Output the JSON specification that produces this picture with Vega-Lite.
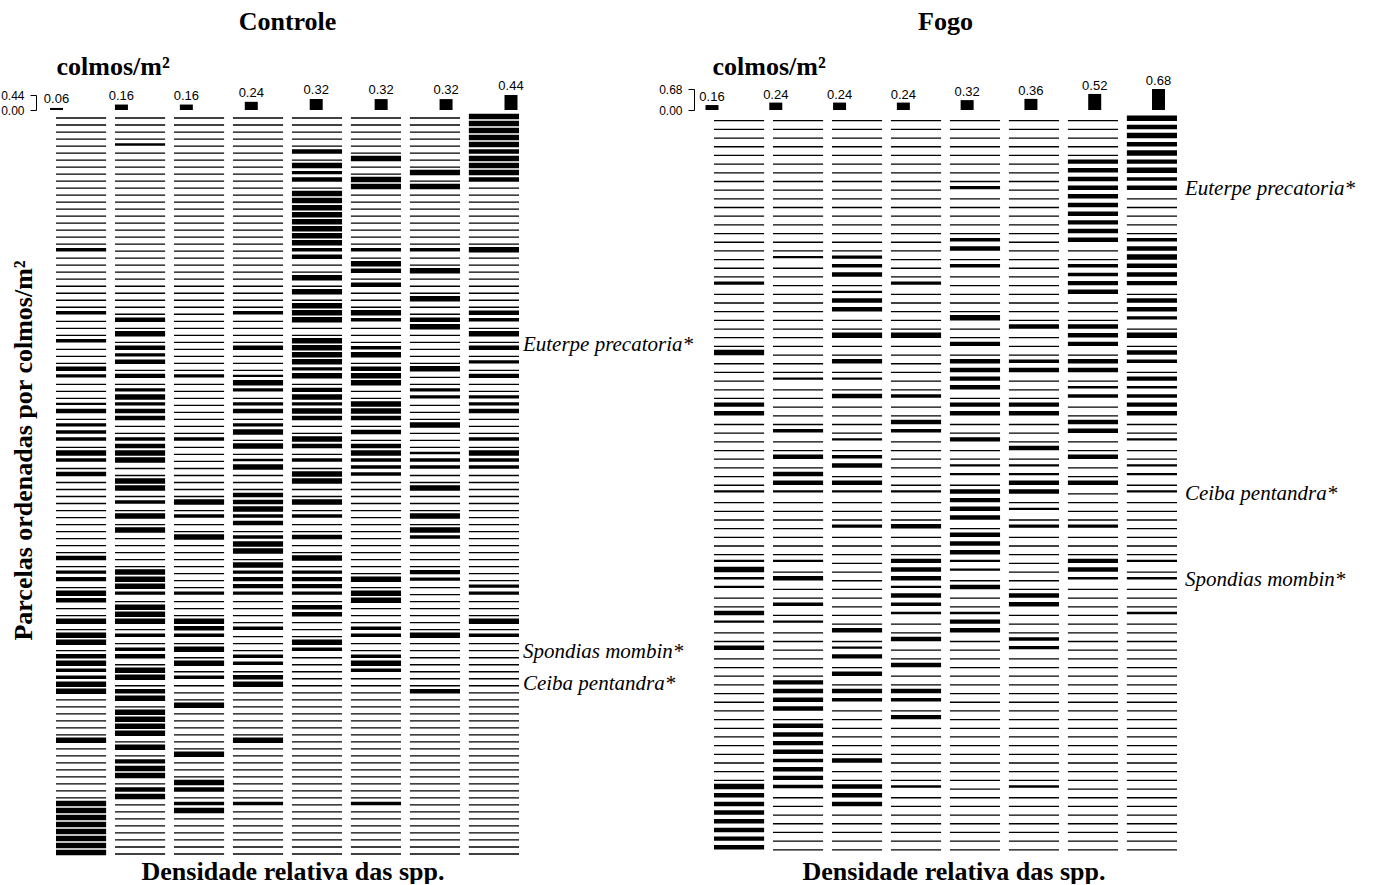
{
"$schema": "https://vega.github.io/schema/vega-lite/v6.json",
"padding": {"left": 0, "top": 9, "right": 5, "bottom": 0},
"background": "white",
"config": {"view": {"stroke": null}, "font": "Liberation Sans"},
"datasets": {
"controle": [
{"r":1,"s8":4},{"r":2,"s8":4},{"r":3,"s8":4},{"r":4,"s8":4},
{"r":5,"s2":1,"s8":4},{"r":6,"s5":3,"s8":3},{"r":7,"s6":4,"s8":4},{"r":8,"s5":4,"s8":4},
{"r":9,"s5":2,"s7":4,"s8":4},{"r":10,"s5":3,"s6":4,"s8":3},{"r":11,"s6":4,"s7":4},
{"r":12,"s5":4},{"r":13,"s5":4},{"r":14,"s5":4},{"r":15,"s5":4},{"r":16,"s5":4},{"r":17,"s5":4},{"r":18,"s5":4},{"r":19,"s5":4},
{"r":20,"s1":2,"s5":2,"s6":2,"s7":2,"s8":4},{"r":21,"s5":3},{"r":22,"s6":4},{"r":23,"s6":3,"s7":4},
{"r":24,"s5":4},{"r":25,"s6":3},{"r":26,"s5":4},{"r":27,"s7":4},{"r":28,"s5":4},
{"r":29,"s1":2,"s4":2,"s5":4,"s6":4,"s8":3},{"r":30,"s2":3,"s5":4,"s6":2,"s7":3,"s8":2},
{"r":31,"s7":4},{"r":32,"s2":4,"s8":4},{"r":33,"s1":2,"s5":4},
{"r":34,"s2":3,"s4":3,"s5":4,"s6":2,"s8":3},{"r":35,"s2":2,"s5":4,"s6":4},{"r":36,"s2":3,"s5":4,"s8":2},
{"r":37,"s1":3,"s5":2,"s6":3,"s7":4},{"r":38,"s1":2,"s2":3,"s3":2,"s4":1,"s5":4,"s6":4,"s8":3},
{"r":39,"s4":4,"s6":4},{"r":40,"s2":2,"s4":2,"s5":3,"s7":2},{"r":41,"s2":4,"s5":4,"s7":2,"s8":2},
{"r":42,"s1":1,"s2":2,"s4":2,"s5":2,"s6":4,"s8":2},{"r":43,"s1":3,"s2":3,"s4":3,"s5":4,"s6":4,"s8":3},
{"r":44,"s2":3,"s5":3,"s6":3},{"r":45,"s1":2,"s4":2,"s7":4},{"r":46,"s1":2,"s4":4,"s6":3},
{"r":47,"s1":2,"s2":2,"s3":2,"s5":4,"s8":2},{"r":48,"s2":3,"s4":4,"s5":3,"s6":3},
{"r":49,"s1":4,"s2":4,"s6":4,"s7":1,"s8":4},{"r":50,"s1":2,"s2":4,"s4":1,"s5":2,"s6":2,"s7":2,"s8":2},
{"r":51,"s4":4,"s6":2,"s7":2,"s8":2},{"r":52,"s1":3,"s5":4,"s6":2},{"r":53,"s2":4,"s5":4},
{"r":54,"s2":4,"s7":4},{"r":55,"s4":3},{"r":56,"s2":2,"s3":4,"s4":3,"s5":4},{"r":57,"s4":4},
{"r":58,"s2":4,"s3":2,"s4":2,"s5":2,"s7":4},{"r":59,"s4":3},{"r":60,"s2":4,"s7":4},
{"r":61,"s3":4,"s4":2,"s5":3,"s7":2},{"r":62,"s4":4},{"r":63,"s4":4},{"r":64,"s1":3,"s5":4},{"r":65,"s4":4},
{"r":66,"s1":2,"s2":4,"s4":2,"s5":2,"s7":3},{"r":67,"s1":3,"s2":4,"s4":3,"s5":3,"s6":4,"s7":2},
{"r":68,"s2":4,"s4":3,"s5":3,"s8":2},{"r":69,"s1":4,"s2":2,"s3":2,"s4":2,"s5":2,"s6":4,"s8":2},
{"r":70,"s1":3,"s6":4},{"r":71,"s2":4,"s5":3},{"r":72,"s2":4,"s5":3},{"r":73,"s1":4,"s2":4,"s3":4,"s8":4},
{"r":74,"s3":3,"s4":2,"s6":2},{"r":75,"s1":4,"s2":2,"s3":2,"s6":2,"s7":4,"s8":2},{"r":76,"s1":4,"s5":4},
{"r":77,"s2":2,"s3":4,"s5":2},{"r":78,"s1":3,"s2":3,"s4":2,"s6":2},{"r":79,"s1":4,"s3":4,"s4":2,"s6":4},
{"r":80,"s1":2,"s2":4,"s6":2},{"r":81,"s1":2,"s2":4,"s3":2,"s4":3},{"r":82,"s1":4,"s4":4},
{"r":83,"s1":4,"s2":3,"s7":3},{"r":84,"s2":4},{"r":85,"s3":4},{"r":86,"s2":4},{"r":87,"s2":4},
{"r":88,"s2":4},{"r":89,"s2":4},{"r":90,"s1":4,"s4":4},{"r":91,"s2":4},{"r":92,"s3":4},{"r":93,"s2":3},
{"r":94,"s2":4},{"r":95,"s2":4},{"r":96,"s3":4},{"r":97,"s2":3,"s3":3},{"r":98,"s2":4},
{"r":99,"s1":4,"s3":2,"s4":2,"s6":2},{"r":100,"s1":4,"s3":4},{"r":101,"s1":4},{"r":102,"s1":4},
{"r":103,"s1":4},{"r":104,"s1":4},{"r":105,"s1":4},{"r":106,"s1":4}
],
"fogo": [
{"r":1,"s8":4},{"r":2,"s8":3},{"r":3,"s8":4},{"r":4,"s8":3},{"r":5,"s8":4},
{"r":6,"s7":3,"s8":3},{"r":7,"s7":3,"s8":4},{"r":8,"s7":3,"s8":2},{"r":9,"s5":2,"s7":3,"s8":3},
{"r":10,"s7":3},{"r":11,"s7":3},{"r":12,"s7":3},{"r":13,"s7":3},{"r":14,"s7":3},
{"r":15,"s5":2,"s7":3,"s8":2},{"r":16,"s5":3,"s8":3},{"r":17,"s2":1,"s3":2,"s8":4},
{"r":18,"s3":2,"s5":2,"s7":2,"s8":3},{"r":19,"s3":3,"s7":2,"s8":3},{"r":20,"s1":2,"s4":2,"s7":3,"s8":3},
{"r":21,"s3":1,"s7":3},{"r":22,"s3":3,"s8":3},{"r":23,"s3":3,"s8":3},{"r":24,"s5":4,"s8":2},
{"r":25,"s6":3,"s7":3},{"r":26,"s3":4,"s4":4,"s7":3,"s8":4},{"r":27,"s5":3,"s7":3},{"r":28,"s1":4,"s8":3},
{"r":29,"s3":3,"s5":3,"s6":2,"s7":3,"s8":2},{"r":30,"s5":3,"s6":3,"s7":3},{"r":31,"s2":1,"s3":1,"s5":3,"s8":3},
{"r":32,"s5":3,"s7":1,"s8":1},{"r":33,"s3":3,"s4":2,"s7":2,"s8":2},{"r":34,"s1":3,"s5":3,"s6":3,"s8":3},
{"r":35,"s1":3,"s5":3,"s6":3,"s8":3},{"r":36,"s4":3,"s7":3},{"r":37,"s2":2,"s4":2,"s7":3},
{"r":38,"s3":1,"s5":3,"s8":1},{"r":39,"s6":3},{"r":40,"s2":3,"s3":2,"s7":3},
{"r":41,"s3":3,"s5":1,"s6":1,"s8":1},{"r":42,"s2":3,"s5":1,"s6":1,"s8":1},{"r":43,"s2":3,"s3":3,"s6":3,"s7":3},
{"r":44,"s1":1,"s2":1,"s3":1,"s4":1,"s5":3,"s6":3,"s8":1},{"r":45,"s5":3},{"r":46,"s5":3,"s6":1},{"r":47,"s5":3},
{"r":48,"s3":2,"s4":3,"s6":2,"s7":2},{"r":49,"s5":3},{"r":50,"s5":3},{"r":51,"s5":3},
{"r":52,"s1":1,"s2":1,"s4":3,"s5":1,"s7":3,"s8":1},{"r":53,"s1":4,"s4":3,"s5":1,"s7":3},
{"r":54,"s1":1,"s2":3,"s4":3,"s7":1,"s8":1},{"r":55,"s1":1,"s4":1,"s5":3},{"r":56,"s4":3,"s6":3},
{"r":57,"s2":2,"s4":2,"s6":3},{"r":58,"s1":3,"s4":1,"s5":1,"s8":1},{"r":59,"s1":1,"s2":1,"s5":3},
{"r":60,"s3":3,"s5":3},{"r":61,"s4":3,"s6":2},{"r":62,"s1":3,"s3":1,"s6":2},{"r":63,"s3":3},{"r":64,"s4":3},
{"r":65,"s3":3},{"r":66,"s2":3},{"r":67,"s2":3,"s3":3,"s4":3},{"r":68,"s2":3,"s3":2,"s4":2},{"r":69,"s2":3},
{"r":70,"s4":3},{"r":71,"s2":3},{"r":72,"s2":3},{"r":73,"s2":3},{"r":74,"s2":3},{"r":75,"s2":2,"s3":3},
{"r":76,"s2":3},{"r":77,"s2":3},{"r":78,"s1":4,"s2":2,"s3":3,"s4":1,"s6":1},{"r":79,"s1":3,"s3":3},
{"r":80,"s1":3,"s3":3},{"r":81,"s1":3},{"r":82,"s1":3},{"r":83,"s1":3},{"r":84,"s1":3},{"r":85,"s1":3}
]
},
"concat": [
{
"width": 463, "height": 29,
"title": {"text": "Controle", "font": "Liberation Serif", "fontSize": 26, "fontWeight": "bold", "anchor": "middle", "frame": "group", "offset": 18, "color": "black"},
"data": {"values": [{"col":1,"v":0.06},{"col":2,"v":0.16},{"col":3,"v":0.16},{"col":4,"v":0.24},{"col":5,"v":0.32},{"col":6,"v":0.32},{"col":7,"v":0.32},{"col":8,"v":0.44}]},
"layer": [
{"mark": {"type": "bar", "width": 13, "color": "black"},
 "encoding": {
  "x": {"field": "col", "type": "ordinal", "scale": {"type": "point", "range": [0.5, 455], "padding": 0}, "axis": null},
  "y": {"field": "v", "type": "quantitative", "scale": {"domain": [0, 0.44], "range": [29, 14], "nice": false},
        "axis": {"values": [0, 0.44], "format": ".2f", "tickSize": 6, "labelPadding": 6, "offset": 20, "grid": false,
                 "domainColor": "black", "tickColor": "black", "labelFont": "Liberation Sans", "labelFontSize": 12, "labelColor": "black",
                 "labelBaseline": "middle", "labelOverlap": false,
                 "title": "colmos/m²", "titleAngle": 0, "titleAlign": "left", "titleBaseline": "middle", "titleX": 20, "titleY": -15,
                 "titleFont": "Liberation Serif", "titleFontSize": 26, "titleFontWeight": "bold", "titleColor": "black"}}
 }},
{"mark": {"type": "text", "baseline": "alphabetic", "dy": -5, "fontSize": 13, "font": "Liberation Sans", "color": "black"},
 "encoding": {
  "x": {"field": "col", "type": "ordinal"},
  "y": {"field": "v", "type": "quantitative"},
  "text": {"field": "v", "type": "quantitative", "format": ".2f"}
 }}
]
},
{
"width": 463, "height": 29,
"title": {"text": "Fogo", "font": "Liberation Serif", "fontSize": 26, "fontWeight": "bold", "anchor": "middle", "frame": "group", "offset": 18, "color": "black"},
"data": {"values": [{"col":1,"v":0.16},{"col":2,"v":0.24},{"col":3,"v":0.24},{"col":4,"v":0.24},{"col":5,"v":0.32},{"col":6,"v":0.36},{"col":7,"v":0.52},{"col":8,"v":0.68}]},
"layer": [
{"mark": {"type": "bar", "width": 13, "color": "black"},
 "encoding": {
  "x": {"field": "col", "type": "ordinal", "scale": {"type": "point", "range": [-2, 444.5], "padding": 0}, "axis": null},
  "y": {"field": "v", "type": "quantitative", "scale": {"domain": [0, 0.68], "range": [29, 8], "nice": false},
        "axis": {"values": [0, 0.68], "format": ".2f", "tickSize": 6, "labelPadding": 6, "offset": 20, "grid": false,
                 "domainColor": "black", "tickColor": "black", "labelFont": "Liberation Sans", "labelFontSize": 12, "labelColor": "black",
                 "labelBaseline": "middle", "labelOverlap": false,
                 "title": "colmos/m²", "titleAngle": 0, "titleAlign": "left", "titleBaseline": "middle", "titleX": 18, "titleY": -15,
                 "titleFont": "Liberation Serif", "titleFontSize": 26, "titleFontWeight": "bold", "titleColor": "black"}}
 }},
{"mark": {"type": "text", "baseline": "alphabetic", "dy": -4, "fontSize": 13, "font": "Liberation Sans", "color": "black"},
 "encoding": {
  "x": {"field": "col", "type": "ordinal"},
  "y": {"field": "v", "type": "quantitative"},
  "text": {"field": "v", "type": "quantitative", "format": ".2f"}
 }}
]
},
{
"width": 463, "height": 750,
"layer": [
{"data": {"name": "controle"},
 "transform": [{"fold": ["s1","s2","s3","s4","s5","s6","s7","s8"], "as": ["sp","v"]}, {"filter": "!(datum.v > 0)"}],
 "mark": {"type": "rule", "color": "black", "strokeWidth": 1.3},
 "encoding": {
  "x": {"field": "sp", "type": "nominal", "bandPosition": 0,
        "scale": {"type": "band", "domain": ["s1","s2","s3","s4","s5","s6","s7","s8"], "paddingInner": 0.15, "paddingOuter": 0},
        "axis": {"title": "Densidade relativa das spp.", "labels": false, "ticks": false, "domain": false, "grid": false,
                 "titleFont": "Liberation Serif", "titleFontSize": 26, "titleFontWeight": "bold", "titleColor": "black",
                 "titleX": 236.5, "titleY": 10, "titleBaseline": "middle", "titleAlign": "center"}},
  "x2": {"field": "sp", "bandPosition": 1},
  "y": {"field": "r", "type": "quantitative", "scale": {"domain": [0, 107], "reverse": true, "nice": false, "zero": false},
        "axis": {"title": "Parcelas ordenadas por colmos/m²", "labels": false, "ticks": false, "domain": false, "grid": false,
                 "titleAngle": 270, "titleX": -33, "titleY": 339, "titleAlign": "center", "titleBaseline": "middle",
                 "titleFont": "Liberation Serif", "titleFontSize": 26, "titleFontWeight": "bold", "titleColor": "black"}}
 }},
{"data": {"name": "controle"},
 "transform": [{"fold": ["s1","s2","s3","s4","s5","s6","s7","s8"], "as": ["sp","v"]}, {"filter": "datum.v > 0"}],
 "mark": {"type": "rule", "color": "black", "yOffset": -1.5},
 "encoding": {
  "x": {"field": "sp", "type": "nominal", "bandPosition": 0},
  "x2": {"field": "sp", "bandPosition": 1},
  "y": {"field": "r", "type": "quantitative"},
  "strokeWidth": {"field": "v", "type": "quantitative", "scale": {"domain": [1, 4], "range": [2.35, 5.5]}, "legend": null}
 }},
{"data": {"values": [{"t": "Euterpe precatoria*", "r": 33.4}, {"t": "Spondias mombin*", "r": 77.2}, {"t": "Ceiba pentandra*", "r": 81.75}]},
 "mark": {"type": "text", "align": "left", "baseline": "middle", "dx": 29, "font": "Liberation Serif", "fontStyle": "italic", "fontSize": 21, "color": "black"},
 "encoding": {
  "x": {"datum": "s8"},
  "y": {"field": "r", "type": "quantitative"},
  "text": {"field": "t"}
 }}
]
},
{
"width": 463, "height": 750,
"layer": [
{"data": {"name": "fogo"},
 "transform": [{"fold": ["s1","s2","s3","s4","s5","s6","s7","s8"], "as": ["sp","v"]}, {"filter": "!(datum.v > 0)"}],
 "mark": {"type": "rule", "color": "black", "strokeWidth": 1.3},
 "encoding": {
  "x": {"field": "sp", "type": "nominal", "bandPosition": 0,
        "scale": {"type": "band", "domain": ["s1","s2","s3","s4","s5","s6","s7","s8"], "paddingInner": 0.15, "paddingOuter": 0},
        "axis": {"title": "Densidade relativa das spp.", "labels": false, "ticks": false, "domain": false, "grid": false,
                 "titleFont": "Liberation Serif", "titleFontSize": 26, "titleFontWeight": "bold", "titleColor": "black",
                 "titleX": 239.5, "titleY": 10, "titleBaseline": "middle", "titleAlign": "center"}},
  "x2": {"field": "sp", "bandPosition": 1},
  "y": {"field": "r", "type": "quantitative", "scale": {"domain": [-0.12, 86.29], "reverse": true, "nice": false, "zero": false}, "axis": null}
 }},
{"data": {"name": "fogo"},
 "transform": [{"fold": ["s1","s2","s3","s4","s5","s6","s7","s8"], "as": ["sp","v"]}, {"filter": "datum.v > 0"}],
 "mark": {"type": "rule", "color": "black", "yOffset": -2.5},
 "encoding": {
  "x": {"field": "sp", "type": "nominal", "bandPosition": 0},
  "x2": {"field": "sp", "bandPosition": 1},
  "y": {"field": "r", "type": "quantitative"},
  "strokeWidth": {"field": "v", "type": "quantitative", "scale": {"domain": [1, 4], "range": [3.0, 8.0]}, "legend": null}
 }},
{"data": {"values": [{"t": "Euterpe precatoria*", "r": 8.87}, {"t": "Ceiba pentandra*", "r": 44.0}, {"t": "Spondias mombin*", "r": 53.9}]},
 "mark": {"type": "text", "align": "left", "baseline": "middle", "dx": 33, "font": "Liberation Serif", "fontStyle": "italic", "fontSize": 21, "color": "black"},
 "encoding": {
  "x": {"datum": "s8"},
  "y": {"field": "r", "type": "quantitative"},
  "text": {"field": "t"}
 }}
]
}
],
"columns": 2,
"bounds": "flush",
"spacing": {"row": 1, "column": 195}
}
